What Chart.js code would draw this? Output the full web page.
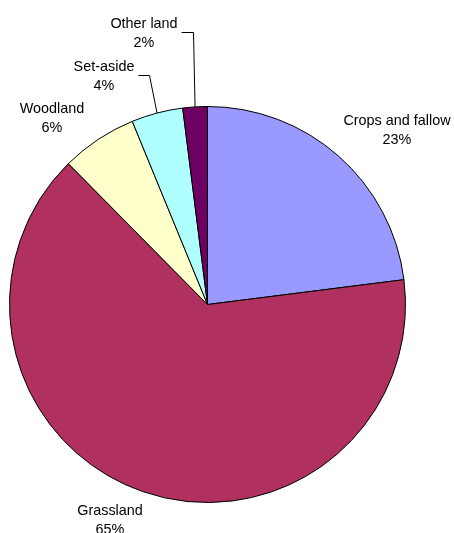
<!DOCTYPE html>
<html>
<head>
<meta charset="utf-8">
<script src="https://cdn.jsdelivr.net/npm/chart.js@4/dist/chart.umd.min.js"></script>
<style>
  html, body { margin: 0; padding: 0; background: #fff; }
  canvas { display: block; }
</style>
</head>
<body>
<canvas id="landChart" width="454" height="533"></canvas>
<script>
// land use shares (%), clockwise from 12 o'clock
const categories = ["Crops and fallow", "Grassland", "Woodland", "Set-aside", "Other land"];
const shares = [23.0, 64.6, 6.2, 4.2, 2.0];
const sliceColors = ["#9999FF", "#B03060", "#FFFFCC", "#B0FFFF", "#6E0064"];

// where each two-line label sits (canvas px, block centre), and which get a leader line
const labelSpots = [[397, 131], [110, 521], [52, 119], [104, 77], [144, 34]];
const hasLeader = [false, false, false, true, true];

const labelPlugin = {
  id: "sliceLabels",
  afterDatasetsDraw(chart) {
    const ctx = chart.ctx;
    const arcs = chart.getDatasetMeta(0).data;
    const total = shares.reduce((a, b) => a + b, 0);
    ctx.save();
    ctx.font = "14.4px 'Liberation Sans', Arial, sans-serif";
    ctx.fillStyle = "#000";
    ctx.textAlign = "center";
    ctx.textBaseline = "middle";
    arcs.forEach((arc, i) => {
      const [lx, ly] = labelSpots[i];
      const pct = Math.round(shares[i] / total * 100) + "%";
      ctx.fillText(categories[i], lx, ly - 9.5);
      ctx.fillText(pct, lx, ly + 9.5);
      if (hasLeader[i]) {
        const w = ctx.measureText(categories[i]).width;
        const sx = lx + w / 2 + 4;
        const ex = sx + 11;
        const mid = (arc.startAngle + arc.endAngle) / 2;
        const px = arc.x + arc.outerRadius * Math.cos(mid);
        const py = arc.y + arc.outerRadius * Math.sin(mid);
        ctx.beginPath();
        ctx.strokeStyle = "#000";
        ctx.lineWidth = 1;
        ctx.moveTo(sx, Math.round(ly) - 1.5);
        ctx.lineTo(Math.round(ex) + 0.5, Math.round(ly) - 1.5);
        ctx.lineTo(px, py);
        ctx.stroke();
      }
    });
    ctx.restore();
  }
};

new Chart(document.getElementById("landChart"), {
  type: "pie",
  data: {
    labels: categories,
    datasets: [{
      data: shares,
      backgroundColor: sliceColors,
      borderColor: "#000",
      borderWidth: 1
    }]
  },
  options: {
    responsive: false,
    animation: false,
    devicePixelRatio: 1,
    layout: { padding: { left: 9, right: 48, top: 106, bottom: 30 } },
    plugins: {
      legend: { display: false },
      tooltip: { enabled: false }
    }
  },
  plugins: [labelPlugin]
});
</script>
</body>
</html>
